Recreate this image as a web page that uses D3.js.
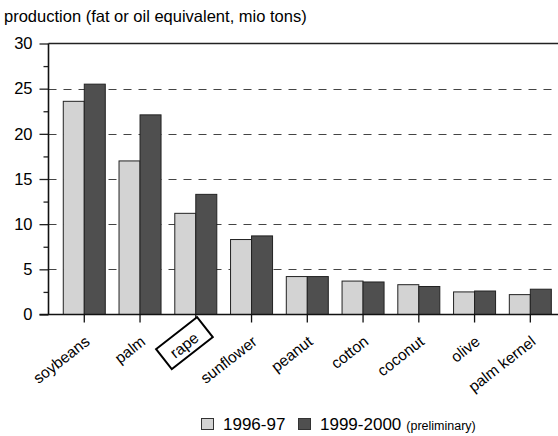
<!DOCTYPE html>
<html>
<head>
<meta charset="utf-8">
<script src="https://cdn.jsdelivr.net/npm/d3@7"></script>
<style>
  html, body { margin: 0; padding: 0; background: #fff; }
  svg { display: block; }
  text { font-family: "Liberation Sans", Arial, sans-serif; fill: #000; }
</style>
</head>
<body>
<svg id="chart" width="558" height="436"></svg>
<script>
const categories = ["soybeans", "palm", "rape", "sunflower", "peanut", "cotton", "coconut", "olive", "palm kernel"];
const values1996 = [23.6, 17.0, 11.2, 8.3, 4.2, 3.7, 3.3, 2.5, 2.2];
const values1999 = [25.5, 22.1, 13.3, 8.7, 4.2, 3.6, 3.1, 2.6, 2.8];
const seriesNames = ["1996-97", "1999-2000"];
const seriesNote = "(preliminary)";
const yTicks = [0, 5, 10, 15, 20, 25, 30];
const yMinorTicks = [2.5, 7.5, 12.5, 17.5, 22.5, 27.5];
const gridValues = [5, 10, 15, 20, 25];
const highlighted = "rape";
const titleText = "production (fat or oil equivalent, mio tons)";

const colors = ["#d3d3d3", "#4f4f4f"];

const svg = d3.select("#chart");
const mLeft = 48.5, mRight = 558, mTop = 43.5, mBottom = 314.5;

const y = d3.scaleLinear().domain([0, 30]).range([mBottom, mTop]);
const x = d3.scaleBand().domain(categories).range([56.4, 558.2])
  .paddingInner(0.2466).paddingOuter(0.1233);
const xs = d3.scaleBand().domain([0, 1]).range([0, x.bandwidth()]);

// title
svg.append("text").attr("x", 4).attr("y", 22)
  .style("font-size", "16.5px").text(titleText);

// gridlines
svg.append("g").selectAll("line").data(gridValues).join("line")
  .attr("x1", mLeft).attr("x2", mRight)
  .attr("y1", d => Math.round(y(d)) + 0.5).attr("y2", d => Math.round(y(d)) + 0.5)
  .attr("stroke", "#444").attr("stroke-width", 1.2)
  .attr("stroke-dasharray", "8,7");

// top border
svg.append("line").attr("x1", mLeft).attr("x2", mRight).attr("y1", mTop).attr("y2", mTop)
  .attr("stroke", "#222").attr("stroke-width", 1.6);

// bars
const series = [values1996, values1999];
const g = svg.append("g");
categories.forEach((c, i) => {
  series.forEach((vals, s) => {
    g.append("rect")
      .attr("x", x(c) + xs(s))
      .attr("y", y(vals[i]))
      .attr("width", xs.bandwidth())
      .attr("height", y(0) - y(vals[i]))
      .attr("fill", colors[s])
      .attr("stroke", "#222")
      .attr("stroke-width", 1);
  });
});

// y axis
const yAxis = d3.axisLeft(y).tickValues(yTicks).tickSize(9).tickPadding(7).tickFormat(d3.format("d"));
const yg = svg.append("g").attr("transform", `translate(${mLeft},0)`).call(yAxis);
yg.select(".domain").remove();
yg.selectAll(".tick line").attr("stroke", "#222").attr("stroke-width", 1.3);
yg.selectAll(".tick text").style("font-size", "16.5px").style("font-family", "Liberation Sans, Arial, sans-serif").attr("fill", "#000");
const yMinor = d3.axisLeft(y).tickValues(yMinorTicks).tickSize(5).tickFormat("");
const ymg = svg.append("g").attr("transform", `translate(${mLeft},0)`).call(yMinor);
ymg.select(".domain").remove();
ymg.selectAll(".tick line").attr("stroke", "#222").attr("stroke-width", 1.3);
svg.append("line").attr("x1", mLeft).attr("x2", mLeft).attr("y1", mTop).attr("y2", mBottom)
  .attr("stroke", "#111").attr("stroke-width", 1.6);

// x axis
const xAxis = d3.axisBottom(x).tickSize(8).tickFormat("");
const xg = svg.append("g").attr("transform", `translate(0,${mBottom})`).call(xAxis);
xg.select(".domain").remove();
xg.selectAll(".tick line").attr("stroke", "#111").attr("stroke-width", 1.3);
svg.append("line").attr("x1", mLeft - 9).attr("x2", mRight).attr("y1", mBottom).attr("y2", mBottom)
  .attr("stroke", "#111").attr("stroke-width", 1.6);

// x labels
const angle = -38;
const labels = svg.append("g").selectAll("g.lab").data(categories).join("g")
  .attr("class", "lab")
  .attr("transform", d => {
    const dx = d === highlighted ? 4 : 6.5;
    const dy = d === highlighted ? 25.5 : 29;
    return `translate(${x(d) + x.bandwidth() / 2 + dx},${mBottom + dy}) rotate(${angle})`;
  });
labels.append("text")
  .attr("text-anchor", "end")
  .style("font-size", "15.5px")
  .text(d => d);
labels.filter(d => d === highlighted).each(function() {
  const t = d3.select(this).select("text");
  const bb = t.node().getBBox();
  const cx = bb.x + bb.width / 2 + 1.5, cy = bb.y + bb.height / 2 - 1.5;
  const w = bb.width + 21, h = 25.5;
  d3.select(this).insert("rect", "text")
    .attr("x", cx - w / 2).attr("y", cy - h / 2)
    .attr("width", w).attr("height", h)
    .attr("fill", "#fff").attr("stroke", "#000").attr("stroke-width", 2);
});

// legend
const legend = svg.append("g");
const legX = [201, 298];
seriesNames.forEach((name, s) => {
  legend.append("rect").attr("x", legX[s] + 0.5).attr("y", 418.5).attr("width", 12).attr("height", 11)
    .attr("fill", colors[s]).attr("stroke", "#333").attr("stroke-width", 1);
  const t = legend.append("text").attr("x", legX[s] + 22).attr("y", 430)
    .style("font-size", "17px");
  t.append("tspan").text(name);
  if (s === 1) {
    t.append("tspan").attr("dx", 5).style("font-size", "12.5px").text(seriesNote);
  }
});
</script>
</body>
</html>
